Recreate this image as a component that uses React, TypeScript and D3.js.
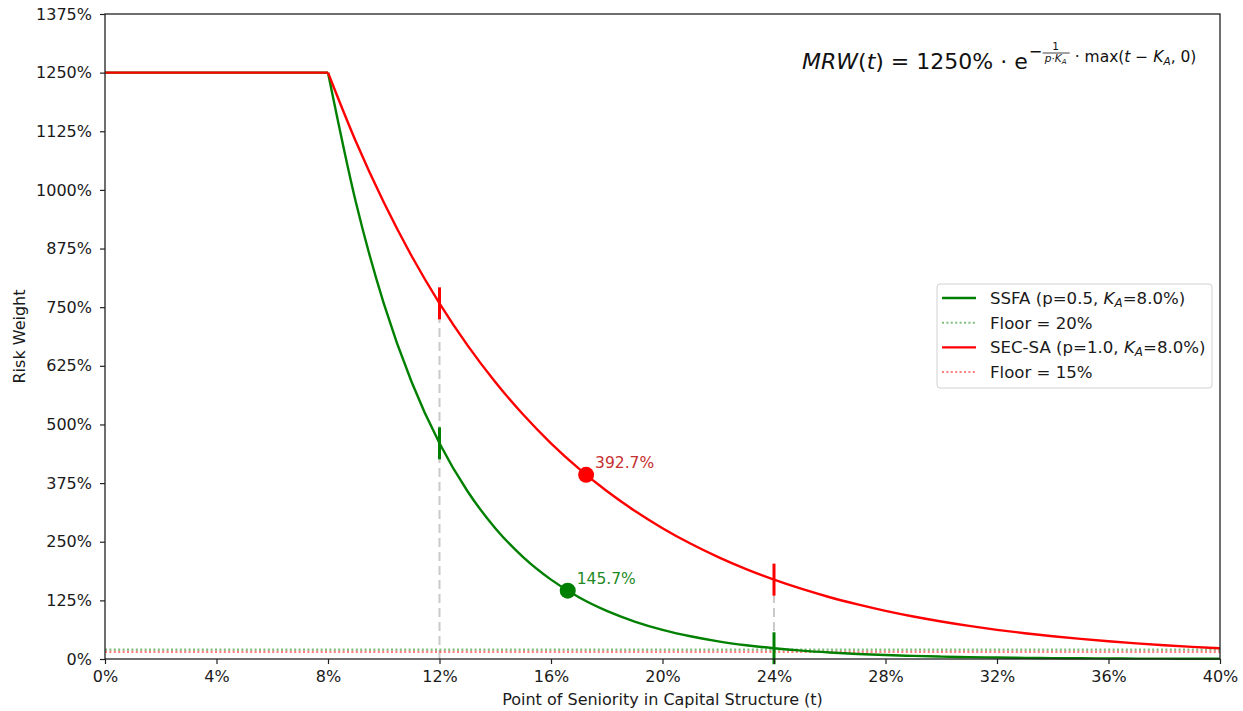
import React, { useEffect, useRef } from "react";
import * as d3 from "d3";

// point of seniority t (%)
const tValues = [0, 1, 2, 3, 4, 5, 6, 7, 8, 9, 10, 11, 12, 13, 14, 15, 16, 17, 18, 19, 20,
  21, 22, 23, 24, 25, 26, 27, 28, 29, 30, 31, 32, 33, 34, 35, 36, 37, 38, 39, 40];
// SSFA risk weight (%)
const ssfaValues = [1250, 1250, 1250, 1250, 1250, 1250, 1250, 1250, 1250, 973.5, 758.2, 590.5,
  459.8, 358.1, 278.9, 217.2, 169.2, 131.7, 102.6, 79.9, 62.2, 48.5, 37.7, 29.4, 22.9, 17.8,
  13.9, 10.8, 8.4, 6.6, 5.1, 4.0, 3.1, 2.4, 1.9, 1.5, 1.1, 0.9, 0.7, 0.5, 0.4];
// SEC-SA risk weight (%)
const secsaValues = [1250, 1250, 1250, 1250, 1250, 1250, 1250, 1250, 1250, 1103.1, 973.5, 859.1,
  758.2, 669.1, 590.5, 521.1, 459.8, 405.8, 358.1, 316.0, 278.9, 246.1, 217.2, 191.7, 169.2,
  149.3, 131.7, 116.3, 102.6, 90.5, 79.9, 70.5, 62.2, 54.9, 48.5, 42.8, 37.7, 33.3, 29.4, 25.9, 22.9];

const xTicks = [0, 4, 8, 12, 16, 20, 24, 28, 32, 36, 40];
const yTicks = [0, 125, 250, 375, 500, 625, 750, 875, 1000, 1125, 1250, 1375];

const seriesNames = ["SSFA", "SEC-SA"];
const seriesP = ["0.5", "1.0"];
const floorValues = [20, 15];
const markerT = [12, 24];
const highlightT = [16.6, 17.26];
const highlightValues = [145.7, 392.7];

const W = 1243;
const H = 711;
const FONT = "'DejaVu Sans', sans-serif";

export default function App() {
  const ref = useRef<SVGSVGElement>(null);

  useEffect(() => {
    const svg = d3.select(ref.current);
    svg.selectAll("*").remove();

    const margin = { top: 14, right: 23, bottom: 52, left: 105 };
    const w = W - margin.left - margin.right;
    const h = H - margin.top - margin.bottom;

    const g = svg.append("g").attr("transform", `translate(${margin.left},${margin.top})`);

    const x = d3.scaleLinear().domain([0, 40]).range([0, w]);
    const y = d3.scaleLinear().domain([0, 1375]).range([h, 0]);

    const colors = ["#008000", "#ff0000"];
    const labelColors = ["#1f8a1f", "#c62f2f"];
    const values = [ssfaValues, secsaValues];

    // gray dashed guides at the marked points
    g.selectAll(".guide")
      .data(markerT)
      .join("line")
      .attr("class", "guide")
      .attr("x1", (d) => x(d))
      .attr("x2", (d) => x(d))
      .attr("y1", y(0))
      .attr("y2", (d) => y(d3.max(values, (v) => v[tValues.indexOf(d)]) as number))
      .style("stroke", "#bdbdbd")
      .style("stroke-width", 2)
      .style("stroke-dasharray", "9,5")
      .style("opacity", 0.8);

    // floors
    g.selectAll(".floor")
      .data(floorValues)
      .join("line")
      .attr("class", "floor")
      .attr("x1", 0)
      .attr("x2", w)
      .attr("y1", (d) => y(d))
      .attr("y2", (d) => y(d))
      .style("stroke", (d, i) => colors[i])
      .style("stroke-width", 2.2)
      .style("stroke-dasharray", "2,2.4")
      .style("opacity", 0.5);

    // curves: flat part linear, decay part smooth
    const line = d3.line<number>().x((d, i) => x(tValues[i])).y((d) => y(d));
    const decayT = tValues.filter((t) => t >= 8);
    const decayLine = d3
      .line<number>()
      .x((d, i) => x(decayT[i]))
      .y((d) => y(d))
      .curve(d3.curveMonotoneX);

    values.forEach((v, k) => {
      const flat = v.filter((d, i) => tValues[i] <= 8);
      const decay = v.filter((d, i) => tValues[i] >= 8);
      g.append("path")
        .attr("d", line(flat))
        .style("fill", "none")
        .style("stroke", colors[k])
        .style("stroke-width", 2.4);
      g.append("path")
        .attr("d", decayLine(decay))
        .style("fill", "none")
        .style("stroke", colors[k])
        .style("stroke-width", 2.4);

      // vertical tick markers at t = 12% and 24%
      g.selectAll(".mk" + k)
        .data(markerT)
        .join("line")
        .attr("class", "mk" + k)
        .attr("x1", (d) => x(d))
        .attr("x2", (d) => x(d))
        .attr("y1", (d) => y(v[tValues.indexOf(d)]) - 16)
        .attr("y2", (d) => y(v[tValues.indexOf(d)]) + 16)
        .style("stroke", colors[k])
        .style("stroke-width", 3);
    });

    // highlighted points
    highlightT.forEach((t, k) => {
      g.append("circle")
        .attr("cx", x(t))
        .attr("cy", y(highlightValues[k]))
        .attr("r", 8)
        .style("fill", colors[k]);
      g.append("text")
        .attr("x", x(t) + 9)
        .attr("y", y(highlightValues[k]) - 7)
        .style("font-family", FONT)
        .style("font-size", "15.5px")
        .style("fill", labelColors[k])
        .text(highlightValues[k].toFixed(1) + "%");
    });

    // axes
    const xAxis = g
      .append("g")
      .attr("transform", `translate(0,${h})`)
      .call(d3.axisBottom(x).tickValues(xTicks).tickSize(5).tickPadding(7).tickFormat((d) => d + "%"));
    const yAxis = g
      .append("g")
      .call(d3.axisLeft(y).tickValues(yTicks).tickSize(5).tickPadding(8).tickFormat((d) => d + "%"));
    [xAxis, yAxis].forEach((a) => {
      a.select(".domain").remove();
      a.selectAll("line").style("stroke", "#222").style("stroke-width", 1.2);
      a.selectAll("text").style("font-family", FONT).style("font-size", "16px").style("fill", "#1a1a1a");
    });

    // frame
    g.append("rect")
      .attr("width", w)
      .attr("height", h)
      .style("fill", "none")
      .style("stroke", "#222")
      .style("stroke-width", 1.3);

    // axis labels
    g.append("text")
      .attr("x", w / 2)
      .attr("y", h + 46)
      .style("text-anchor", "middle")
      .style("font-family", FONT)
      .style("font-size", "16px")
      .style("fill", "#1a1a1a")
      .text("Point of Seniority in Capital Structure (t)");
    g.append("text")
      .attr("transform", "rotate(-90)")
      .attr("x", -h / 2)
      .attr("y", -80)
      .style("text-anchor", "middle")
      .style("font-family", FONT)
      .style("font-size", "16px")
      .style("fill", "#1a1a1a")
      .text("Risk Weight");

    // legend
    const lx = 937 - margin.left;
    const ly = 284 - margin.top;
    const legend = g.append("g").attr("transform", `translate(${lx},${ly})`);
    legend
      .append("rect")
      .attr("width", 275)
      .attr("height", 104)
      .attr("rx", 3)
      .style("fill", "white")
      .style("fill-opacity", 0.85)
      .style("stroke", "#d0d0d0");

    const entries: { color: string; dotted: boolean; name?: string; p?: string; floor?: number }[] = [];
    seriesNames.forEach((n, k) => {
      entries.push({ color: colors[k], dotted: false, name: n, p: seriesP[k] });
      entries.push({ color: colors[k], dotted: true, floor: floorValues[k] });
    });
    entries.forEach((e, i) => {
      const ry = 14 + i * 24.7;
      legend
        .append("line")
        .attr("x1", 5)
        .attr("x2", 39)
        .attr("y1", ry)
        .attr("y2", ry)
        .style("stroke", e.color)
        .style("stroke-width", e.dotted ? 2 : 2.4)
        .style("stroke-dasharray", e.dotted ? "2,2.4" : null)
        .style("opacity", e.dotted ? 0.5 : 1);
      const t = legend
        .append("text")
        .attr("x", 53)
        .attr("y", ry + 6)
        .style("font-family", FONT)
        .style("font-size", "16.6px")
        .style("fill", "#1a1a1a");
      if (e.dotted) {
        t.text(`Floor = ${e.floor}%`);
      } else {
        t.append("tspan").text(`${e.name} (p=${e.p}, `);
        t.append("tspan").style("font-style", "italic").text("K");
        t.append("tspan").attr("dy", 3).style("font-size", "12px").style("font-style", "italic").text("A");
        t.append("tspan").attr("dy", -3).text("=8.0%)");
      }
    });

    // formula
    const fx = 802;
    const fy = 69;
    const main = svg
      .append("text")
      .attr("x", fx)
      .attr("y", fy)
      .style("font-family", FONT)
      .style("font-size", "22px")
      .style("fill", "#111");
    main.append("tspan").style("font-style", "italic").text("MRW");
    main.append("tspan").text("(");
    main.append("tspan").style("font-style", "italic").text("t");
    main.append("tspan").text(") = 1250% · e");
    const mw = (main.node() as SVGTextElement).getComputedTextLength();
    const x0 = fx + mw;

    const small = (tx: number, ty: number, size: number) =>
      svg
        .append("text")
        .attr("x", tx)
        .attr("y", ty)
        .style("font-family", FONT)
        .style("font-size", size + "px")
        .style("fill", "#111");

    small(x0 + 1, fy - 12, 16).text("−");
    small(x0 + 28, fy - 19, 10.5).style("text-anchor", "middle").text("1");
    svg
      .append("line")
      .attr("x1", x0 + 15)
      .attr("x2", x0 + 42)
      .attr("y1", fy - 16)
      .attr("y2", fy - 16)
      .style("stroke", "#111")
      .style("stroke-width", 0.8);
    const den = small(x0 + 28, fy - 7, 10.5).style("text-anchor", "middle");
    den.append("tspan").style("font-style", "italic").text("p");
    den.append("tspan").text("·");
    den.append("tspan").style("font-style", "italic").text("K");
    den.append("tspan").attr("dy", 2).style("font-size", "7px").style("font-style", "italic").text("A");

    const rest = small(x0 + 47, fy - 7, 15.5);
    rest.append("tspan").text("· max(");
    rest.append("tspan").style("font-style", "italic").text("t");
    rest.append("tspan").text(" − ");
    rest.append("tspan").style("font-style", "italic").text("K");
    rest.append("tspan").attr("dy", 3).style("font-size", "10.5px").style("font-style", "italic").text("A");
    rest.append("tspan").attr("dy", -3).text(", 0)");
  }, []);

  return (
    <svg
      ref={ref}
      width={W}
      height={H}
      style={{ position: "absolute", left: 0, top: 0, background: "white" }}
    />
  );
}
